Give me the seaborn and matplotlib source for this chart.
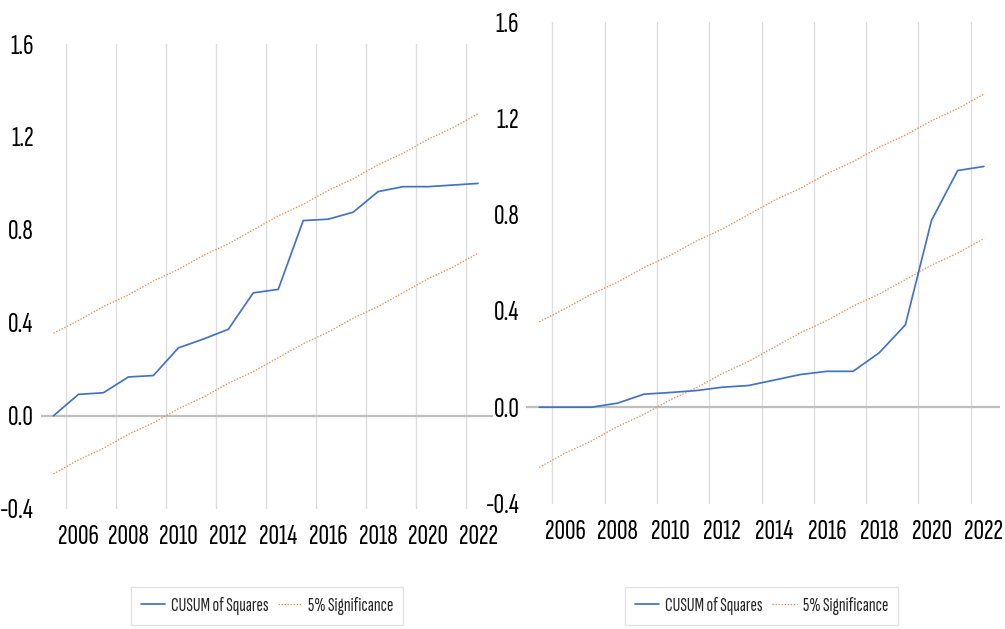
import matplotlib
matplotlib.use("Agg")
import matplotlib.pyplot as plt
from matplotlib.ticker import FixedLocator, FuncFormatter
from matplotlib.lines import Line2D
import seaborn as sns
import pandas as pd

# Annual observations
years = list(range(2005, 2023))

# CUSUM of squares statistic, first model
cusum_left = [0.0, 0.092, 0.099, 0.167, 0.173, 0.292, 0.330, 0.372, 0.529,
              0.544, 0.840, 0.846, 0.876, 0.965, 0.986, 0.986, 0.993, 1.0]
# CUSUM of squares statistic, second model
cusum_right = [0.0, 0.0, 0.0, 0.017, 0.054, 0.061, 0.069, 0.083, 0.090,
               0.113, 0.136, 0.149, 0.149, 0.226, 0.342, 0.776, 0.983, 1.0]
# 5% significance bounds (same sample length for both models)
upper_bound = [0.355, 0.41, 0.47, 0.52, 0.58, 0.63, 0.69, 0.74, 0.80,
               0.86, 0.91, 0.97, 1.02, 1.08, 1.13, 1.19, 1.24, 1.30]
lower_bound = [-0.25, -0.19, -0.14, -0.08, -0.03, 0.03, 0.08, 0.14, 0.19,
               0.25, 0.31, 0.36, 0.42, 0.47, 0.53, 0.59, 0.64, 0.70]

year_labels = ["2006", "2008", "2010", "2012", "2014", "2016", "2018", "2020", "2022"]
label_years = [2006, 2008, 2010, 2012, 2014, 2016, 2018, 2020, 2022]
y_ticks = [-0.4, 0.0, 0.4, 0.8, 1.2, 1.6]
y_grid = [0.4, 0.8, 1.2]
x_grid = [2005.5, 2007.5, 2009.5, 2011.5, 2013.5, 2015.5, 2017.5, 2019.5, 2021.5]

series_names = ["CUSUM of Squares", "5% Significance"]

BLUE = "#4472C4"
ORANGE = "#EE8A4C"
GRID = "#DDDDDD"
ZERO = "#BFBFBF"
DOT = (0, (1, 1.3))

sns.set_style("white")
plt.rcParams["font.family"] = ["Sofia Sans Extra Condensed", "Open Sans Condensed", "DejaVu Sans"]
plt.rcParams["axes.unicode_minus"] = False

W, H = 1005, 629
fig = plt.figure(figsize=(W / 100, H / 100), dpi=100)


def panel(rect_px, cusum, xlim):
    left, top, right, bottom = rect_px
    ax = fig.add_axes([left / W, (H - bottom) / H, (right - left) / W, (bottom - top) / H])
    df = pd.DataFrame({"year": years, "cusum": cusum,
                       "upper": upper_bound, "lower": lower_bound})
    sns.lineplot(data=df, x="year", y="upper", ax=ax, color=ORANGE,
                 linestyle=DOT, linewidth=0.95, zorder=3)
    sns.lineplot(data=df, x="year", y="lower", ax=ax, color=ORANGE,
                 linestyle=DOT, linewidth=0.95, zorder=3)
    sns.lineplot(data=df, x="year", y="cusum", ax=ax, color=BLUE,
                 linewidth=1.25, zorder=4)
    ax.axhline(0, color=ZERO, linewidth=1.6, zorder=2)
    ax.set_xlim(*xlim)
    ax.set_ylim(-0.4, 1.6)
    ax.set_xticks(label_years)
    ax.set_xticklabels(year_labels)
    ax.xaxis.set_minor_locator(FixedLocator(x_grid))
    ax.yaxis.set_major_locator(FixedLocator(y_ticks))
    ax.yaxis.set_minor_locator(FixedLocator(y_grid))
    ax.yaxis.set_major_formatter(FuncFormatter(lambda v, p: f"{v:.1f}"))
    ax.grid(False)
    ax.grid(which="minor", axis="both", color=GRID, linewidth=1.0, zorder=1)
    ax.set_axisbelow(True)
    ax.tick_params(axis="both", which="both", length=0)
    ax.tick_params(axis="x", pad=12, labelsize=21, labelcolor="black")
    ax.tick_params(axis="y", pad=5, labelsize=21, labelcolor="black")
    ax.set_xlabel("")
    ax.set_ylabel("")
    for s in ax.spines.values():
        s.set_visible(False)
    return ax


ax1 = panel((40.5, 44, 493, 508.7), cusum_left, (2004.48, 2022.6))
ax2 = panel((526.2, 22, 999.5, 503.5), cusum_right, (2004.5, 2022.6))

handles = [Line2D([], [], color=BLUE, linewidth=1.25),
           Line2D([], [], color=ORANGE, linewidth=0.95, linestyle=DOT)]

for cx in (267, 761.5):
    leg = fig.legend(handles, series_names, loc="center",
                     bbox_to_anchor=(cx / W, (H - 606) / H), ncol=2,
                     frameon=True, fancybox=False, fontsize=14,
                     handlelength=1.25, handletextpad=0.3, columnspacing=0.5,
                     borderpad=0.5, borderaxespad=0)
    leg.get_frame().set_edgecolor(GRID)
    leg.get_frame().set_linewidth(1.0)

fig.savefig("out.png", dpi=100)
